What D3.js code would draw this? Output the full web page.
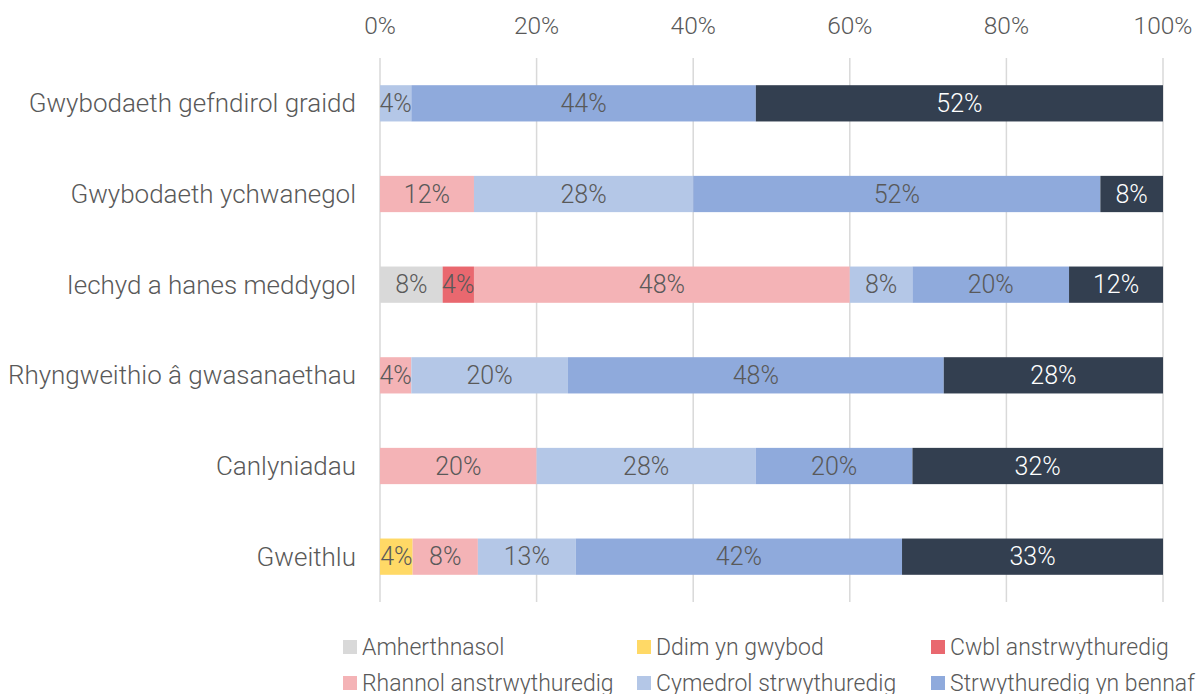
<!DOCTYPE html>
<html>
<head>
<meta charset="utf-8">
<script src="https://cdn.jsdelivr.net/npm/d3@7"></script>
<style>
  body { margin: 0; background: #fff; }
  svg { font-family: Roboto, "Liberation Sans", sans-serif; font-weight: 300; }
</style>
</head>
<body>
<svg width="1202" height="694"></svg>
<script>
(function (d3) {
  'use strict';

  // categories, top to bottom
  var categories = [
    'Gwybodaeth gefndirol graidd',
    'Gwybodaeth ychwanegol',
    'Iechyd a hanes meddygol',
    'Rhyngweithio â gwasanaethau',
    'Canlyniadau',
    'Gweithlu'
  ];

  var seriesNames = [
    'Amherthnasol',
    'Ddim yn gwybod',
    'Cwbl anstrwythuredig',
    'Rhannol anstrwythuredig',
    'Cymedrol strwythuredig',
    'Strwythuredig yn bennaf',
    'Strwythuredig iawn'
  ];

  var seriesColors = ['#d9d9d9', '#ffd966', '#e9686f', '#f4b3b6', '#b4c7e7', '#8faadc', '#333f50'];

  // percentages per series, in category order
  var amherthnasol   = [0, 0, 8, 0, 0, 0];
  var ddimYnGwybod   = [0, 0, 0, 0, 0, 4.17];
  var cwbl           = [0, 0, 4, 0, 0, 0];
  var rhannol        = [0, 12, 48, 4, 20, 8.33];
  var cymedrol       = [4, 28, 8, 20, 28, 12.5];
  var ynBennaf       = [44, 52, 20, 48, 20, 41.67];
  var iawn           = [52, 8, 12, 28, 32, 33.33];

  var tickValues = [0, 20, 40, 60, 80, 100];

  var seriesValues = [amherthnasol, ddimYnGwybod, cwbl, rhannol, cymedrol, ynBennaf, iawn];

  var rows = categories.map(function (c, i) {
    var r = { cat: c };
    seriesNames.forEach(function (s, j) { r[s] = seriesValues[j][i]; });
    return r;
  });

  var stack = d3.stack().keys(seriesNames)(rows);

  var svg = d3.select('svg');
  var textColor = '#595959';

  var x = d3.scaleLinear().domain([0, 100]).range([380, 1163]);
  var y = d3.scaleBand().domain(categories).range([58, 602]).paddingInner(0.6).paddingOuter(0.3);

  // gridlines
  svg.append('g').selectAll('line').data(tickValues).enter().append('line')
    .attr('x1', function (d) { return x(d); })
    .attr('x2', function (d) { return x(d); })
    .attr('y1', 58).attr('y2', 602)
    .attr('stroke', '#d9d9d9').attr('stroke-width', 1.5);

  // top axis labels
  svg.append('g').selectAll('text').data(tickValues).enter().append('text')
    .attr('x', function (d) { return x(d); })
    .attr('y', 25)
    .attr('dy', '0.35em')
    .attr('text-anchor', 'middle')
    .attr('font-size', 24.5)
    .attr('fill', textColor)
    .text(function (d) { return d + '%'; });

  // category labels
  svg.append('g').selectAll('text').data(categories).enter().append('text')
    .attr('x', 356)
    .attr('y', function (d) { return y(d) + y.bandwidth() / 2; })
    .attr('dy', '0.35em')
    .attr('text-anchor', 'end')
    .attr('font-size', 26)
    .attr('fill', textColor)
    .text(function (d) { return d; });

  // bars
  var layers = svg.append('g').selectAll('g').data(stack).enter().append('g')
    .attr('fill', function (d, i) { return seriesColors[i]; });

  layers.selectAll('rect').data(function (d) { return d.filter(function (p) { return p[1] - p[0] > 0; }); })
    .enter().append('rect')
    .attr('x', function (d) { return x(d[0]); })
    .attr('width', function (d) { return x(d[1]) - x(d[0]); })
    .attr('y', function (d) { return y(d.data.cat); })
    .attr('height', y.bandwidth());

  layers.selectAll('text').data(function (d) { return d.filter(function (p) { return p[1] - p[0] > 0; }); })
    .enter().append('text')
    .attr('x', function (d) { return (x(d[0]) + x(d[1])) / 2; })
    .attr('y', function (d) { return y(d.data.cat) + y.bandwidth() / 2; })
    .attr('dy', '0.35em')
    .attr('text-anchor', 'middle')
    .attr('font-size', 25)
    .attr('fill', function () {
      return this.parentNode.__data__.key === 'Strwythuredig iawn' ? '#ffffff' : textColor;
    })
    .text(function (d) { return Math.round(d[1] - d[0]) + '%'; });

  // legend, 3 columns
  var legendX = [343, 637, 931];
  var legend = svg.append('g').selectAll('g').data(seriesNames).enter().append('g')
    .attr('transform', function (d, i) {
      return 'translate(' + legendX[i % 3] + ',' + (647 + Math.floor(i / 3) * 36) + ')';
    });
  legend.append('rect').attr('x', 0).attr('y', -7).attr('width', 14).attr('height', 14)
    .attr('fill', function (d, i) { return seriesColors[i]; });
  legend.append('text').attr('x', 19).attr('dy', '0.35em')
    .attr('font-size', 23).attr('fill', textColor)
    .text(function (d) { return d; });

}(d3));
</script>
</body>
</html>
